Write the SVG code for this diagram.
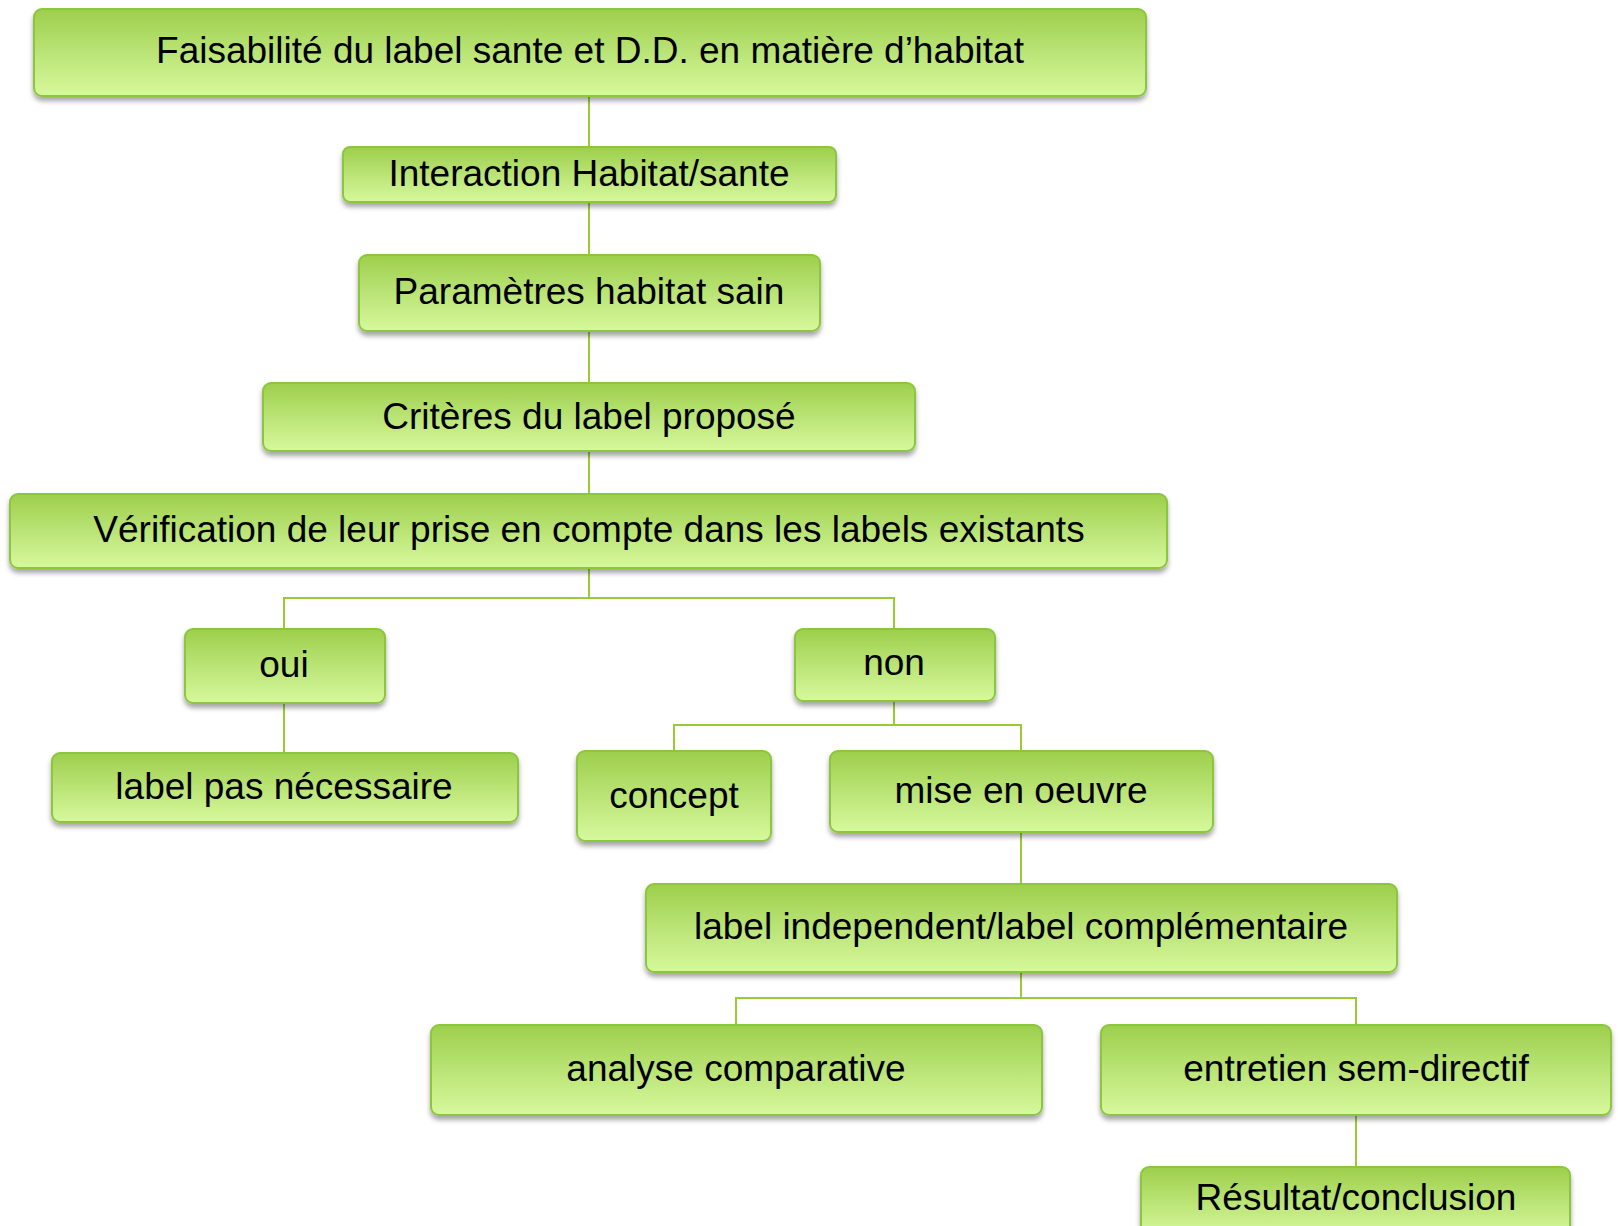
<svg xmlns="http://www.w3.org/2000/svg" width="1618" height="1226" viewBox="0 0 1618 1226">
<defs>
<linearGradient id="g" x1="0" y1="0" x2="0" y2="1">
<stop offset="0" stop-color="#9dcf4c"/>
<stop offset="0.55" stop-color="#bde67a"/>
<stop offset="1" stop-color="#d6f99c"/>
</linearGradient>
<filter id="sh" x="-5%" y="-20%" width="110%" height="150%">
<feDropShadow dx="0" dy="4" stdDeviation="2.5" flood-color="#000" flood-opacity="0.35"/>
</filter>
</defs>
<style>
.n rect{fill:url(#g);stroke:#8cc63e;stroke-width:2;filter:url(#sh)}
.n text{font-family:"Liberation Sans",Arial,sans-serif;font-size:37px;fill:#000;text-anchor:middle;dominant-baseline:central}
.c{fill:none;stroke:#99cc33;stroke-width:2}
</style>
<rect width="1618" height="1226" fill="#fff"/>
<g id="connectors">
<path class="c" d="M589 96V147M589 202V255M589 331V383M589 451V494"/>
<path class="c" d="M589 568V598M284 629V598H894V629"/>
<path class="c" d="M284 703V753"/>
<path class="c" d="M894 701V725M674 751V725H1021V751"/>
<path class="c" d="M1021 832V884"/>
<path class="c" d="M1021 972V998M736 1025V998H1356V1025"/>
<path class="c" d="M1356 1115V1167"/>
</g>
<g id="n1" class="n"><rect x="34" y="9" width="1112" height="87" rx="8"/><text x="590" y="50">Faisabilité du label sante et D.D. en matière d’habitat</text></g>
<g id="n2" class="n"><rect x="343" y="147" width="493" height="55" rx="7"/><text x="589" y="173">Interaction Habitat/sante</text></g>
<g id="n3" class="n"><rect x="359" y="255" width="461" height="76" rx="8"/><text x="589" y="291">Paramètres habitat sain</text></g>
<g id="n4" class="n"><rect x="263" y="383" width="652" height="68" rx="8"/><text x="589" y="416">Critères du label proposé</text></g>
<g id="n5" class="n"><rect x="10" y="494" width="1157" height="74" rx="8"/><text x="589" y="529">Vérification de leur prise en compte dans les labels existants</text></g>
<g id="n6" class="n"><rect x="185" y="629" width="200" height="74" rx="8"/><text x="284" y="664">oui</text></g>
<g id="n7" class="n"><rect x="795" y="629" width="200" height="72" rx="8"/><text x="894" y="662">non</text></g>
<g id="n8" class="n"><rect x="52" y="753" width="466" height="69" rx="8"/><text x="284" y="786">label pas nécessaire</text></g>
<g id="n9" class="n"><rect x="577" y="751" width="194" height="90" rx="8"/><text x="674" y="795">concept</text></g>
<g id="n10" class="n"><rect x="830" y="751" width="383" height="81" rx="8"/><text x="1021" y="790">mise en oeuvre</text></g>
<g id="n11" class="n"><rect x="646" y="884" width="751" height="88" rx="8"/><text x="1021" y="926">label independent/label complémentaire</text></g>
<g id="n12" class="n"><rect x="431" y="1025" width="611" height="90" rx="8"/><text x="736" y="1068">analyse comparative</text></g>
<g id="n13" class="n"><rect x="1101" y="1025" width="510" height="90" rx="8"/><text x="1356" y="1068">entretien sem-directif</text></g>
<g id="n14" class="n"><rect x="1141" y="1167" width="429" height="70" rx="8"/><text x="1356" y="1197">Résultat/conclusion</text></g>
</svg>
